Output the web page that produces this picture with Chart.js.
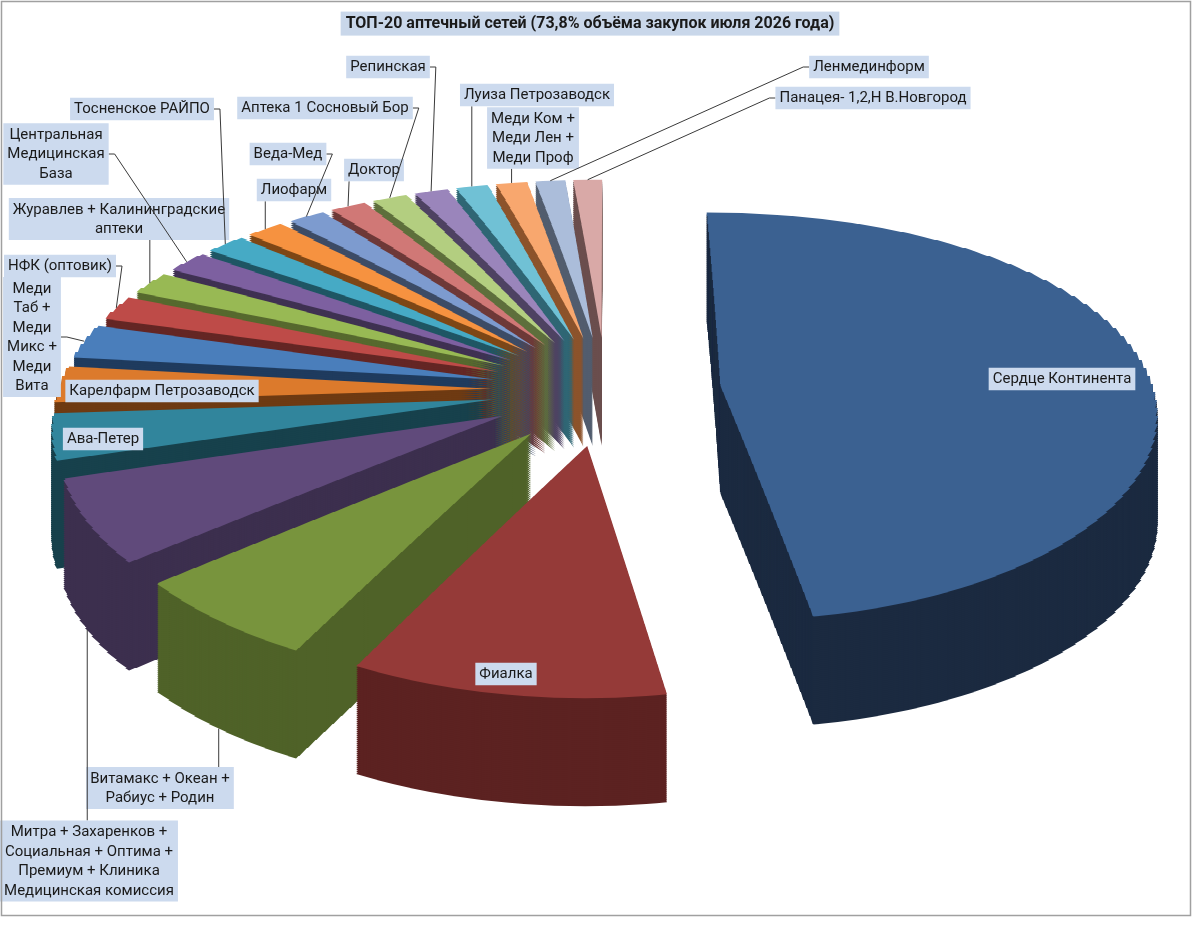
<!DOCTYPE html>
<html>
<head>
<meta charset="utf-8">
<script src="https://cdn.jsdelivr.net/npm/chart.js@4.4.1/dist/chart.umd.min.js"></script>
<style>
  html, body { margin: 0; padding: 0; background: #fff; }
  canvas { display: block; }
</style>
</head>
<body>
<canvas id="myChart" width="1200" height="931"></canvas>
<script>
// --- data (share of the top-20 volume, %) ---
const pharmacyNames = [
  'Сердце Континента',
  'Фиалка',
  'Витамакс + Океан +\nРабиус + Родин',
  'Митра + Захаренков +\nСоциальная + Оптима +\nПремиум + Клиника\nМедицинская комиссия',
  'Ава-Петер',
  'Карелфарм Петрозаводск',
  'Меди\nТаб +\nМеди\nМикс +\nМеди\nВита',
  'НФК (оптовик)',
  'Журавлев + Калининградские\nаптеки',
  'Центральная\nМедицинская\nБаза',
  'Тосненское РАЙПО',
  'Лиофарм',
  'Веда-Мед',
  'Доктор',
  'Аптека 1 Сосновый Бор',
  'Репинская',
  'Луиза Петрозаводск',
  'Меди Ком +\nМеди Лен +\nМеди Проф',
  'Ленмединформ',
  'Панацея- 1,2,Н В.Новгород'
];
const shares = [47.2, 10.3, 6.4, 6.3, 3.5, 2.8, 2.7, 2.0, 1.9, 1.8,
                1.7, 1.65, 1.6, 1.55, 1.5, 1.45, 1.4, 1.35, 1.3, 1.25];
const chartTitle = 'ТОП-20 аптечный сетей (73,8% объёма закупок июля 2026 года)';

// --- styles ---
const topColors = ['#3B6191', '#953A38', '#78943D', '#604A7B', '#31859C', '#DC7A2C',
  '#4A7EBB', '#BE4B48', '#98B954', '#7D60A0', '#46AAC5', '#F69240',
  '#7D9BCF', '#D07876', '#B3CE80', '#9A85BB', '#70C1D5', '#F8A76E', '#ABBDDA', '#D9A9A7'];
const sideColors = ['#1B2A40', '#5C2221', '#4F6228', '#3C2F4E', '#17414C', '#6E3A12',
  '#1F3B5E', '#642624', '#56692E', '#3F3152', '#1F5664', '#7E4716',
  '#3D4C66', '#6E3938', '#5E6F3C', '#4E4262', '#2F6674', '#8C532B', '#525D6E', '#6B4F4E'];
// label box centre + where the leader leaves the box
const labelSpots = [
  [1062, 379, 'none'], [506, 674, 'none'], [160, 788, 'top'], [89, 861, 'top'],
  [103, 439, 'none'], [162, 391, 'none'], [32, 337, 'right'], [60, 266, 'right'],
  [119, 219, 'bottom'], [56, 154, 'right'], [142, 109, 'right'], [294, 190, 'bottom'],
  [288, 154, 'right'], [374, 170, 'bottom'], [325, 108, 'right'], [388, 67, 'right'],
  [537, 95, 'bottom'], [533, 138, 'bottom'], [869, 67, 'left'], [873, 98, 'left']
];

// 3D look: pie plane (u, v) seen with a tilt and a little perspective
const CX = 606, CY = 390;
const RADIUS = 433, EXPLODE = 115, RTOT = RADIUS + EXPLODE;
const TILT = 0.474, PERSP_X = 0.15, PERSP_Y = 0.19, DEPTH = 108;
const STRIP = 8;
const LABEL_FONT = '15px Roboto';
const LINE_H = 19.5;

Chart.defaults.font.family = 'Roboto';

function midAngle(arc) { return (arc.startAngle + arc.endAngle) / 2; }
function widthAt(v) { return 1 + PERSP_X * v / RTOT; }
function screenY(v) { return CY + TILT * v * (1 + PERSP_Y * v / RTOT); }
function planeV(y) {
  const a = TILT * PERSP_Y / RTOT;
  return (-TILT + Math.sqrt(TILT * TILT + 4 * a * (y - CY))) / (2 * a);
}

function vRange(arc) {
  const cv = Math.sin(midAngle(arc)) * EXPLODE;
  let lo = cv, hi = cv;
  for (let t = 0; t <= 40; t++) {
    const v = cv + Math.sin(arc.startAngle + (arc.endAngle - arc.startAngle) * t / 40) * RADIUS;
    lo = Math.min(lo, v); hi = Math.max(hi, v);
  }
  return [lo - 2, hi + 2];
}

function paintArc(ctx, arc, color, drop, w) {
  const m = midAngle(arc);
  const s = RADIUS / arc.outerRadius;
  const ghost = Object.create(arc);
  ghost.options = Object.assign({}, arc.options, {backgroundColor: color, borderColor: color, borderWidth: 0, offset: 0});
  const r = vRange(arc);
  const k0 = Math.floor(screenY(Math.max(r[0], -RTOT)) / STRIP);
  const k1 = Math.floor(screenY(Math.min(r[1], RTOT)) / STRIP);
  for (let k = k0; k <= k1; k++) {
    const ya = k * STRIP, yb = ya + STRIP;
    const va = planeV(ya), vb = planeV(yb);
    const b = STRIP / (vb - va);
    ctx.save();
    ctx.beginPath();
    ctx.rect(0, ya + drop, w, STRIP);
    ctx.clip();
    ctx.translate(CX, ya - va * b + drop);
    ctx.scale(widthAt((va + vb) / 2), b);
    ctx.translate(Math.cos(m) * EXPLODE, Math.sin(m) * EXPLODE);
    ctx.scale(s, s);
    ctx.translate(-arc.x, -arc.y);
    arc.draw.call(ghost, ctx);
    ctx.restore();
  }
}

function rimPoint(arc, drop) {
  const m = midAngle(arc);
  const u = Math.cos(m) * RTOT, v = Math.sin(m) * RTOT;
  return {x: CX + u * widthAt(v), y: screenY(v) + drop};
}

const titleBox = {
  id: 'titleBox',
  beforeDraw(chart) {
    const ctx = chart.ctx;
    ctx.save();
    ctx.fillStyle = '#fff';
    ctx.fillRect(0, 0, chart.width, chart.height);
    const tb = chart.titleBlock;
    ctx.font = 'bold 16px Roboto';
    const w = ctx.measureText(chartTitle).width + 10;
    const cx = tb.left + tb.width / 2;
    const cy = tb.top + 14 + 19.2 / 2;
    ctx.fillStyle = '#C9D7EA';
    ctx.fillRect(cx - w / 2, cy - 12, w, 24);
    ctx.restore();
  }
};

const pie3d = {
  id: 'pie3d',
  beforeDatasetDraw(chart, args) {
    const ctx = chart.ctx;
    const arcs = args.meta.data;
    const order = arcs.map((a, i) => i).sort((i, j) => Math.sin(midAngle(arcs[i])) - Math.sin(midAngle(arcs[j])));
    order.forEach(function (i) {
      for (let d = DEPTH; d > 0; d -= 2) paintArc(ctx, arcs[i], sideColors[i], d, chart.width);
      paintArc(ctx, arcs[i], topColors[i], 0, chart.width);
    });
    return false;
  }
};

const sliceLabels = {
  id: 'sliceLabels',
  afterDraw(chart) {
    const ctx = chart.ctx;
    const arcs = chart.getDatasetMeta(0).data;
    ctx.save();
    ctx.font = LABEL_FONT;
    pharmacyNames.forEach(function (name, i) {
      const lines = name.split('\n');
      const lx = labelSpots[i][0], ly = labelSpots[i][1], attach = labelSpots[i][2];
      const w = Math.max.apply(null, lines.map(s => ctx.measureText(s).width)) + 8;
      const h = lines.length * LINE_H + 3;
      const left = lx - w / 2, top = ly - h / 2;
      if (attach !== 'none') {
        const a = rimPoint(arcs[i], attach === 'top' ? DEPTH : 0);
        ctx.strokeStyle = '#3a3a3a';
        ctx.lineWidth = 1;
        ctx.beginPath();
        if (attach === 'right') {
          ctx.moveTo(left + w, ly); ctx.lineTo(left + w + 6, ly);
        } else if (attach === 'left') {
          ctx.moveTo(left, ly); ctx.lineTo(left - 6, ly);
        } else {
          const sx = Math.min(Math.max(a.x, left + 5), left + w - 5);
          ctx.moveTo(sx, attach === 'top' ? top : top + h);
        }
        ctx.lineTo(a.x, a.y);
        ctx.stroke();
      }
      ctx.fillStyle = '#CCDAEE';
      ctx.fillRect(left, top, w, h);
      ctx.fillStyle = '#1a1a1a';
      ctx.textAlign = 'center';
      ctx.textBaseline = 'middle';
      lines.forEach((s, k) => ctx.fillText(s, lx, top + 2 + LINE_H * (k + 0.5)));
    });
    ctx.strokeStyle = '#a0a0a0';
    ctx.lineWidth = 1.5;
    ctx.strokeRect(1.5, 1.5, 1189, 914);
    ctx.restore();
  }
};

var myChart = new Chart(document.getElementById('myChart'), {
  type: 'pie',
  data: {
    labels: pharmacyNames.map(n => n.replace(/\n/g, ' ')),
    datasets: [{
      data: shares,
      backgroundColor: topColors,
      borderWidth: 0
    }]
  },
  options: {
    responsive: false,
    animation: false,
    events: [],
    layout: { padding: { right: 20 } },
    plugins: {
      legend: { display: false },
      tooltip: { enabled: false },
      title: {
        display: true,
        text: chartTitle,
        color: '#1a1a1a',
        font: { size: 16, weight: 'bold' },
        padding: { top: 14, bottom: 6 }
      }
    }
  },
  plugins: [titleBox, pie3d, sliceLabels]
});
</script>
</body>
</html>
